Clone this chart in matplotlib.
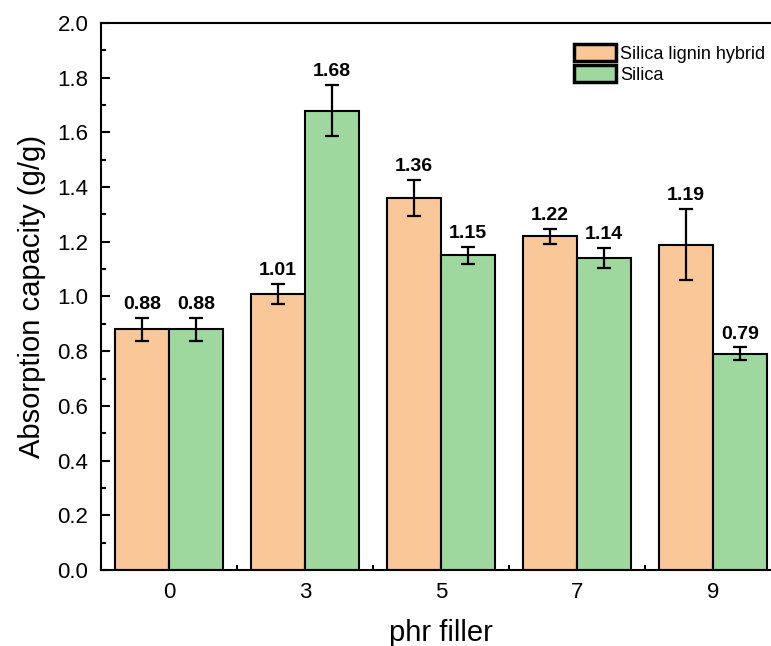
import numpy as np
import matplotlib
matplotlib.use('Agg')
import matplotlib.pyplot as plt
from matplotlib.ticker import MultipleLocator, FormatStrFormatter

plt.rcParams['font.family'] = ['Liberation Sans', 'DejaVu Sans']

# data
phr = ['0', '3', '5', '7', '9']
hybrid = [0.88, 1.01, 1.36, 1.22, 1.19]
hybrid_err = [0.041, 0.037, 0.066, 0.028, 0.13]
silica = [0.88, 1.68, 1.15, 1.14, 0.79]
silica_err = [0.041, 0.093, 0.03, 0.037, 0.024]

orange = '#FAC898'
green = '#9FD89F'

fig = plt.figure(figsize=(7.71, 6.46), dpi=100)
ax = fig.add_axes([101 / 771, 76 / 646, 680 / 771, 547 / 646])

x = np.arange(len(phr))
w = 0.4
err_kw = dict(ecolor='black', elinewidth=1.6, capsize=4.7, capthick=1.6)
ax.bar(x - w / 2, hybrid, w, yerr=hybrid_err, color=orange, edgecolor='black',
       linewidth=1.5, label='Silica lignin hybrid', error_kw=err_kw)
ax.bar(x + w / 2, silica, w, yerr=silica_err, color=green, edgecolor='black',
       linewidth=1.5, label='Silica', error_kw=err_kw)

for xs, vals, errs in [(x - w / 2, hybrid, hybrid_err), (x + w / 2, silica, silica_err)]:
    for xi, v, e in zip(xs, vals, errs):
        ax.annotate(f'{v:.2f}', (xi, v + e), xytext=(0, 3.5), textcoords='offset points',
                    ha='center', va='bottom', fontsize=14, fontweight='bold')

ax.set_xlim(-0.5, 4.5)
ax.set_ylim(0, 2.0)
ax.set_xticks(x)
ax.set_xticklabels(phr)
ax.xaxis.set_minor_locator(MultipleLocator(1, offset=0.5))
ax.yaxis.set_major_locator(MultipleLocator(0.2))
ax.yaxis.set_minor_locator(MultipleLocator(0.1))
ax.yaxis.set_major_formatter(FormatStrFormatter('%.1f'))

ax.tick_params(which='both', direction='in', width=1.5, labelsize=16)
ax.tick_params(which='major', length=6.5)
ax.tick_params(which='minor', length=3.5)
ax.tick_params(axis='x', pad=9)
ax.tick_params(axis='y', pad=9)
for s in ax.spines.values():
    s.set_linewidth(1.5)

ax.set_xlabel('phr filler', fontsize=21, labelpad=11)
ax.set_ylabel('Absorption capacity (g/g)', fontsize=21, labelpad=8)

leg = ax.legend(loc='upper left', bbox_to_anchor=(574 / 771, 1 - 44 / 646),
                bbox_transform=fig.transFigure, frameon=False, fontsize=13,
                handlelength=2.3, handleheight=1.05, handletextpad=0.25,
                labelspacing=0.15, borderaxespad=0, borderpad=0)
for h in leg.legend_handles:
    h.set_linewidth(2.5)

fig.savefig('out.png', dpi=100)
